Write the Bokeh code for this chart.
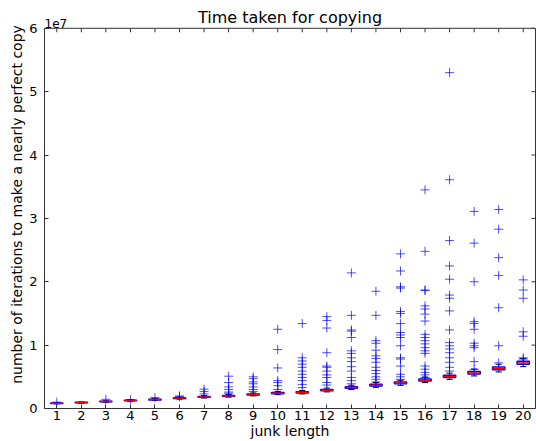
from bokeh.plotting import figure
from bokeh.models import Range1d, FixedTicker, Label, LinearAxis, Span
from bokeh.embed import file_html
from bokeh.resources import INLINE

# junk length categories
junk = list(range(1, 21))
# box statistics, in millions of iterations
med = [0.84, 0.93, 1.09, 1.25, 1.41, 1.62, 1.83, 1.99, 2.20, 2.42, 2.55, 2.89, 3.30, 3.68, 4.02, 4.47, 5.04, 5.62, 6.30, 7.20]
q1 = [0.80, 0.89, 1.05, 1.21, 1.36, 1.56, 1.76, 1.92, 2.12, 2.33, 2.46, 2.79, 3.19, 3.56, 3.89, 4.33, 4.88, 5.45, 6.11, 6.98]
q3 = [0.88, 0.97, 1.13, 1.29, 1.46, 1.68, 1.90, 2.07, 2.29, 2.52, 2.66, 3.01, 3.43, 3.83, 4.17, 4.64, 5.23, 5.83, 6.53, 7.45]
wlo = [0.74, 0.83, 0.98, 1.13, 1.28, 1.47, 1.65, 1.80, 1.99, 2.19, 2.30, 2.62, 2.99, 3.34, 3.66, 4.09, 4.60, 5.14, 5.77, 6.60]
whi = [0.94, 1.04, 1.21, 1.38, 1.55, 1.79, 2.03, 2.21, 2.45, 2.69, 2.85, 3.22, 3.67, 4.09, 4.45, 4.96, 5.58, 6.22, 6.98, 7.88]
# outliers per junk length, in millions
outliers = [
    [1.0],
    [],
    [1.45],
    [1.40],
    [1.72],
    [1.98, 1.85],
    [3.05, 2.67, 2.3],
    [5.1, 4.1, 3.4, 3.0, 2.6, 2.4],
    [5.0, 4.7, 4.2, 3.9, 3.4, 3.0, 2.7],
    [12.5, 9.3, 6.4, 4.4, 4.1, 3.6, 3.0],
    [13.4, 8.0, 7.5, 7.0, 6.5, 5.9, 5.4, 4.9, 4.4, 3.8, 3.3],
    [14.5, 13.9, 12.7, 8.8, 6.7, 6.5, 5.9, 5.3, 4.9, 4.1, 3.7],
    [21.4, 14.7, 12.4, 12.2, 11.2, 9.1, 8.7, 8.0, 7.4, 6.6, 5.9, 4.9, 4.4, 3.9],
    [18.5, 14.7, 10.7, 10.3, 9.2, 8.3, 7.9, 7.3, 6.5, 6.0, 5.5, 5.0, 4.6, 4.2],
    [24.4, 21.7, 19.2, 19.0, 15.3, 15.0, 13.4, 12.0, 11.6, 11.2, 9.9, 8.0, 7.8, 6.7, 5.4, 5.0, 4.6],
    [34.5, 24.8, 18.7, 18.6, 16.2, 15.7, 14.9, 13.8, 11.7, 11.2, 10.7, 10.2, 9.6, 9.1, 8.7, 6.7, 6.2, 5.7, 5.3, 4.9],
    [53.0, 36.1, 26.5, 22.5, 20.4, 17.9, 17.4, 15.4, 12.4, 10.4, 9.9, 9.4, 8.8, 8.0, 7.3, 6.5, 5.9],
    [31.1, 26.1, 20.0, 13.7, 13.4, 12.5, 10.3, 9.9, 9.6, 7.4, 6.2],
    [31.4, 28.3, 23.8, 21.0, 15.9, 9.9, 7.2],
    [20.3, 18.7, 17.4, 12.1, 11.4, 8.0, 7.8],
]
yticks = [0, 1, 2, 3, 4, 5, 6]  # in units of 1e7
title_text = "Time taken for copying"
xlabel = "junk length"
ylabel = "number of iterations to make a nearly perfect copy"

M = 1e6
FONT = "DejaVu Sans"
XLO, XHI, YLO, YHI = 0.5, 20.5, 0, 6e7
# layout constants (pixels)
FRAME_H = 408.0      # expected frame height
FRAME_W = 490.0
TOP_GAP = 27.8       # room above the axes box for the title row
YTOP = YHI * FRAME_H / (FRAME_H - TOP_GAP)
PX_Y = YTOP / FRAME_H          # data units per vertical pixel
TICK_Y = 4 * PX_Y
TICK_X = 4 * (XHI - XLO) / FRAME_W
EDGE = "#333333"

p = figure(width=536, height=441, output_backend="svg", toolbar_location=None,
           x_range=Range1d(XLO, XHI), y_range=Range1d(YLO, YTOP), title=None,
           min_border_left=44, min_border_right=1, min_border_top=0, min_border_bottom=0)
p.xgrid.visible = False
p.ygrid.visible = False
p.outline_line_color = None
p.background_fill_color = "white"
p.border_fill_color = "white"

ytick_vals = [t * 1e7 for t in yticks]
for ax in (p.xaxis[0], p.yaxis[0]):
    ax.major_tick_in = 4
    ax.major_tick_out = 0
    ax.minor_tick_in = 0
    ax.minor_tick_out = 0
    ax.axis_line_color = EDGE
    ax.major_tick_line_color = EDGE
    ax.major_label_text_font = FONT
    ax.major_label_text_font_size = "13px"
    ax.major_label_text_color = "black"
    ax.major_label_text_line_height = 1.0
    ax.axis_label_text_font = FONT
    ax.axis_label_text_font_size = "14px"
    ax.axis_label_text_font_style = "normal"
    ax.axis_label_text_color = "black"
    ax.axis_label_text_line_height = 1.0

p.xaxis.major_label_standoff = 2
p.xaxis.axis_label_standoff = 0
p.yaxis.major_label_standoff = 7
p.yaxis.axis_label_standoff = 1
p.yaxis.bounds = (YLO, YHI)

p.xaxis.ticker = FixedTicker(ticks=junk)
p.xaxis.axis_label = xlabel
p.yaxis.ticker = FixedTicker(ticks=ytick_vals)
p.yaxis.major_label_overrides = {v: str(t) for v, t in zip(ytick_vals, yticks)}
p.yaxis.axis_label = ylabel

# right spine (no ticks, no labels)
right = LinearAxis(ticker=FixedTicker(ticks=[]), bounds=(YLO, YHI), axis_line_color=EDGE,
                   major_tick_in=0, major_tick_out=0, minor_tick_in=0, minor_tick_out=0,
                   major_label_standoff=0)
p.add_layout(right, "right")
# top spine
p.add_layout(Span(location=YHI, dimension="width", line_color=EDGE, line_width=1))

# mirrored inward ticks on the top and right spines
p.segment(x0=junk, y0=[YHI] * len(junk), x1=junk, y1=[YHI - TICK_Y] * len(junk),
          line_color=EDGE, line_width=1)
p.segment(x0=[XHI] * len(yticks), y0=ytick_vals, x1=[XHI - TICK_X] * len(yticks), y1=ytick_vals,
          line_color=EDGE, line_width=1)

# whiskers
p.segment(x0=junk, y0=[v * M for v in q3], x1=junk, y1=[v * M for v in whi],
          line_color="blue", line_dash="4 2", line_width=1)
p.segment(x0=junk, y0=[v * M for v in wlo], x1=junk, y1=[v * M for v in q1],
          line_color="blue", line_dash="4 2", line_width=1)
# caps
p.segment(x0=[x - 0.125 for x in junk], y0=[v * M for v in whi],
          x1=[x + 0.125 for x in junk], y1=[v * M for v in whi], line_color="black")
p.segment(x0=[x - 0.125 for x in junk], y0=[v * M for v in wlo],
          x1=[x + 0.125 for x in junk], y1=[v * M for v in wlo], line_color="black")
# boxes
p.quad(left=[x - 0.25 for x in junk], right=[x + 0.25 for x in junk],
       bottom=[v * M for v in q1], top=[v * M for v in q3],
       fill_color=None, line_color="blue", line_width=1.5)
# medians
p.segment(x0=[x - 0.25 for x in junk], y0=[v * M for v in med],
          x1=[x + 0.25 for x in junk], y1=[v * M for v in med], line_color="red", line_width=1.5)
# fliers
fx, fy = [], []
for x, vals in zip(junk, outliers):
    for v in vals:
        fx.append(x)
        fy.append(v * M)
p.scatter(fx, fy, marker="cross", size=9, line_color="blue", line_alpha=0.7, line_width=1)

# title and offset text, placed just above the axes box
p.add_layout(Label(x=(XLO + XHI) / 2, y=YHI + 10.5 * PX_Y, text=title_text, text_font=FONT,
                   text_font_size="16px", text_align="center", text_baseline="alphabetic",
                   text_color="black"))
p.add_layout(Label(x=XLO, y=YHI + 5 * PX_Y, text="1e7", text_font=FONT, text_font_size="12px",
                   text_align="left", text_baseline="alphabetic", text_color="black"))

open("out.html", "w").write(file_html(p, INLINE))
